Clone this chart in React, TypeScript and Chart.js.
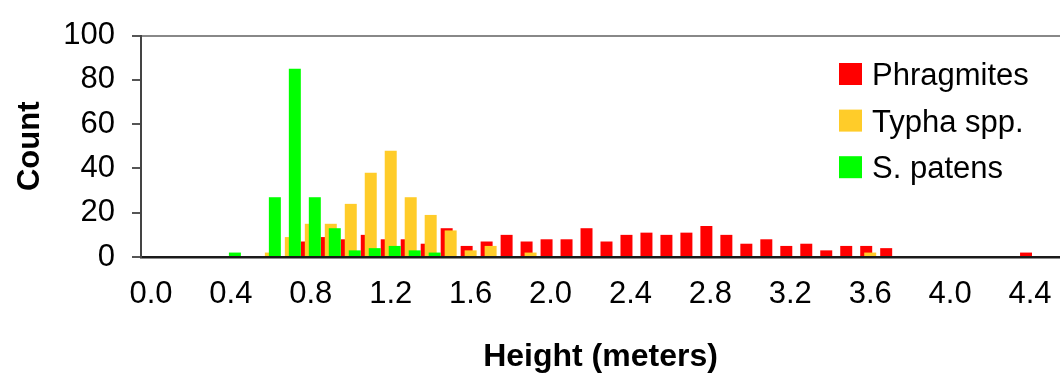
import React, { useEffect, useRef } from "react";
import { Chart, registerables } from "chart.js";

Chart.register(...registerables);

// Height classes (meters)
const heightClasses = [
  "0.0", "0.1", "0.2", "0.3", "0.4", "0.5", "0.6", "0.7", "0.8", "0.9",
  "1.0", "1.1", "1.2", "1.3", "1.4", "1.5", "1.6", "1.7", "1.8", "1.9",
  "2.0", "2.1", "2.2", "2.3", "2.4", "2.5", "2.6", "2.7", "2.8", "2.9",
  "3.0", "3.1", "3.2", "3.3", "3.4", "3.5", "3.6", "3.7", "3.8", "3.9",
  "4.0", "4.1", "4.2", "4.3", "4.4", "4.5",
];

const phragmites = [
  0, 0, 0, 0, 0, 0, 0, 0, 7, 9,
  8, 10, 8, 8, 6, 13, 5, 7, 10, 7,
  8, 8, 13, 7, 10, 11, 10, 11, 14, 10,
  6, 8, 5, 6, 3, 5, 5, 4, 0, 0,
  0, 0, 0, 0, 2, 0,
];

const typha = [
  0, 0, 0, 0, 0, 0, 2, 9, 15, 15,
  24, 38, 48, 27, 19, 12, 3, 5, 0, 2,
  0, 0, 0, 0, 0, 0, 0, 0, 0, 0,
  0, 0, 0, 0, 0, 0, 2, 0, 0, 0,
  0, 0, 0, 0, 0, 0,
];

const sPatens = [
  0, 0, 0, 0, 2, 0, 27, 85, 27, 13,
  3, 4, 5, 3, 2, 0, 0, 0, 0, 0,
  0, 0, 0, 0, 0, 0, 0, 0, 0, 0,
  0, 0, 0, 0, 0, 0, 0, 0, 0, 0,
  0, 0, 0, 0, 0, 0,
];

const seriesNames = ["Phragmites", "Typha spp.", "S. patens"];
const seriesColors = ["#ff0000", "#ffcc29", "#00ff00"];
const xLabelEvery = 4;
const yMax = 100;
const yStep = 20;

const FONT = "'Liberation Sans', Arial, Helvetica, sans-serif";

// Draw datasets so that the later series sits on top (like Excel overlap)
const layerOrderPlugin = {
  id: "layerOrder",
  beforeDatasetsDraw(chart: any) {
    const n = chart.data.datasets.length;
    for (let i = 0; i < n; i++) {
      if (!chart.isDatasetVisible(i)) continue;
      const meta = chart.getDatasetMeta(i);
      meta.controller.draw();
    }
    return false;
  },
};

const sideLegendPlugin = {
  id: "sideLegend",
  afterDraw(chart: any) {
    const ctx = chart.ctx;
    ctx.save();
    ctx.font = `31px ${FONT}`;
    ctx.textBaseline = "alphabetic";
    ctx.textAlign = "left";
    chart.data.datasets.forEach((ds: any, i: number) => {
      const cy = 74 + i * 46.6;
      ctx.fillStyle = ds.backgroundColor;
      ctx.fillRect(839, cy - 11, 23, 22);
      ctx.fillStyle = "#000";
      ctx.fillText(ds.label, 872, cy + 11);
    });
    ctx.restore();
  },
};

export default function App() {
  const ref = useRef<HTMLCanvasElement>(null);

  useEffect(() => {
    if (!ref.current) return;
    const datasets = [phragmites, typha, sPatens].map((values, i) => ({
      label: seriesNames[i],
      data: values,
      backgroundColor: seriesColors[i],
      borderWidth: 0,
      inflateAmount: 0,
      categoryPercentage: 0.6,
      barPercentage: 3,
    }));

    const chart = new Chart(ref.current, {
      type: "bar",
      data: { labels: heightClasses, datasets },
      plugins: [layerOrderPlugin, sideLegendPlugin],
      options: {
        animation: false,
        responsive: false,
        devicePixelRatio: 1,
        layout: { padding: { top: 24, right: 0, bottom: 0, left: 0 } },
        plugins: {
          legend: { display: false },
          tooltip: { enabled: false },
        },
        scales: {
          x: {
            type: "category",
            offset: true,
            grid: {
              display: true,
              drawOnChartArea: false,
              drawTicks: true,
              tickLength: 19,
              tickColor: "rgba(0,0,0,0)",
              color: "rgba(0,0,0,0)",
            },
            border: { display: true, color: "#1a1a1a", width: 2.5, z: 1 },
            ticks: {
              autoSkip: false,
              maxRotation: 0,
              minRotation: 0,
              padding: 0,
              color: "#000",
              font: { family: FONT, size: 31 },
              callback: (_v: any, i: number) =>
                i % xLabelEvery === 0 ? heightClasses[i] : "",
            },
            title: {
              display: true,
              text: "Height (meters)",
              color: "#000",
              font: { family: FONT, size: 32, weight: "bold" },
              padding: { top: 0, bottom: 5 },
            },
            afterFit: (s: any) => {
              s.height = 124;
            },
          },
          y: {
            min: 0,
            max: yMax,
            border: { display: true, color: "#444", width: 2, z: 1 },
            grid: {
              color: (c: any) =>
                c.tick && c.tick.value === yMax ? "#888" : "rgba(0,0,0,0)",
              lineWidth: 2,
              drawTicks: true,
              tickLength: 9,
              tickColor: "#555",
              tickWidth: 2,
            },
            ticks: {
              stepSize: yStep,
              padding: 17,
              color: "#000",
              font: { family: FONT, size: 31 },
            },
            title: {
              display: true,
              text: "Count",
              color: "#000",
              font: { family: FONT, size: 31, weight: "bold" },
              padding: { top: 12, bottom: 0 },
            },
            afterFit: (s: any) => {
              s.width = 141;
            },
          },
        },
      } as any,
    });
    return () => chart.destroy();
  }, []);

  return (
    <div
      style={{
        position: "fixed",
        left: 0,
        top: 0,
        width: 1060,
        height: 381,
        background: "#fff",
      }}
    >
      <canvas
        ref={ref}
        width={1060}
        height={381}
        style={{ display: "block", width: 1060, height: 381 }}
      />
    </div>
  );
}
